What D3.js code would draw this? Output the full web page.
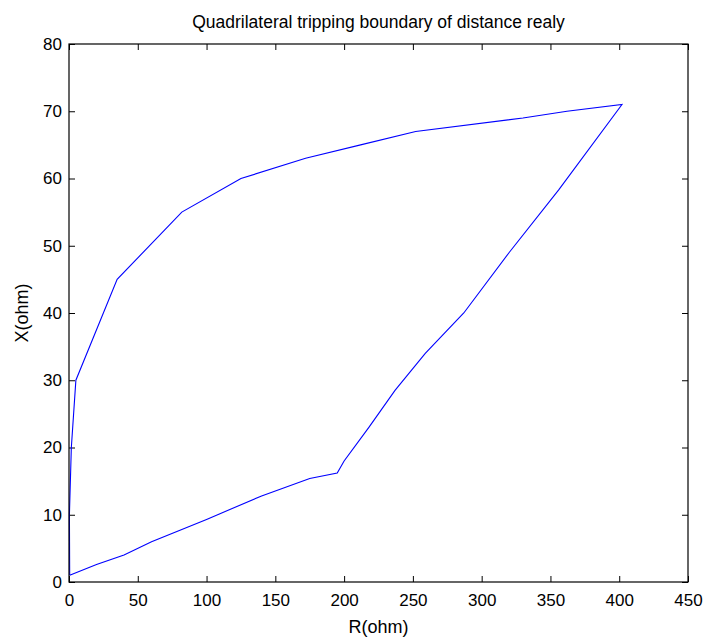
<!DOCTYPE html>
<html>
<head>
<meta charset="utf-8">
<script src="https://cdn.jsdelivr.net/npm/d3@7"></script>
<style>
  html, body { margin: 0; padding: 0; background: #fff; }
  svg { display: block; font-family: "Liberation Sans", Arial, sans-serif; }
</style>
</head>
<body>
<svg id="chart" width="705" height="639"></svg>
<script>
// Boundary traced as one closed path: upper arc from origin to the far corner,
// then the lower arc back to the origin.
const upperR = [0.5, 0.3, 1.7, 5, 35, 82, 125, 172, 212, 252, 330, 362, 402];
const upperX = [1, 10, 20, 30, 45, 55, 60, 63, 65, 67, 69, 70, 71];
const lowerR = [402, 356, 320, 287, 259, 237, 218, 200, 195, 175, 140, 100, 60, 40, 20, 0.5];
const lowerX = [71, 58.3, 49, 40, 34, 28.5, 23, 18, 16.2, 15.4, 12.8, 9.3, 6, 4, 2.6, 1];

const xTicks = [0, 50, 100, 150, 200, 250, 300, 350, 400, 450];
const yTicks = [0, 10, 20, 30, 40, 50, 60, 70, 80];

const titleText = "Quadrilateral tripping boundary of distance realy";
const xLabel = "R(ohm)";
const yLabel = "X(ohm)";

const svg = d3.select("#chart");
const plotL = 69, plotR = 688, plotT = 44, plotB = 582;

const x = d3.scaleLinear().domain([0, 450]).range([plotL, plotR]);
const y = d3.scaleLinear().domain([0, 80]).range([plotB, plotT]);

const tickLen = 6;
const tickFont = 17;
const labelFont = 18;

// Axes: ticks point inward, mirrored on the top and right edges
svg.append("g")
  .attr("transform", `translate(0,${plotB})`)
  .call(d3.axisBottom(x).tickValues(xTicks).tickSizeInner(-tickLen).tickSizeOuter(0).tickPadding(12))
  .call(g => g.select(".domain").remove())
  .call(g => g.selectAll("text").attr("font-size", tickFont).attr("font-family", "Liberation Sans, Arial, sans-serif").attr("fill", "#000"));

svg.append("g")
  .attr("transform", `translate(0,${plotT})`)
  .call(d3.axisTop(x).tickValues(xTicks).tickSizeInner(-tickLen).tickSizeOuter(0).tickFormat(""))
  .call(g => g.select(".domain").remove());

svg.append("g")
  .attr("transform", `translate(${plotL},0)`)
  .call(d3.axisLeft(y).tickValues(yTicks).tickSizeInner(-tickLen).tickSizeOuter(0).tickPadding(7))
  .call(g => g.select(".domain").remove())
  .call(g => g.selectAll("text").attr("font-size", tickFont).attr("font-family", "Liberation Sans, Arial, sans-serif").attr("fill", "#000"));

svg.append("g")
  .attr("transform", `translate(${plotR},0)`)
  .call(d3.axisRight(y).tickValues(yTicks).tickSizeInner(-tickLen).tickSizeOuter(0).tickFormat(""))
  .call(g => g.select(".domain").remove());

svg.selectAll(".tick line").attr("stroke", "#000");

// Boundary curve
const pts = upperR.map((r, i) => [r, upperX[i]])
  .concat(lowerR.map((r, i) => [r, lowerX[i]]));

svg.append("path")
  .datum(pts)
  .attr("fill", "none")
  .attr("stroke", "#0000ff")
  .attr("stroke-width", 1.1)
  .attr("d", d3.line().x(d => x(d[0])).y(d => y(d[1])));

// Plot frame
svg.append("rect")
  .attr("x", plotL).attr("y", plotT)
  .attr("width", plotR - plotL).attr("height", plotB - plotT)
  .attr("fill", "none").attr("stroke", "#000").attr("stroke-width", 1.2);

// Title and axis labels
svg.append("text")
  .attr("x", (plotL + plotR) / 2).attr("y", 28)
  .attr("text-anchor", "middle").attr("font-size", 17.5)
  .text(titleText);

svg.append("text")
  .attr("x", (plotL + plotR) / 2).attr("y", 633)
  .attr("text-anchor", "middle").attr("font-size", labelFont)
  .text(xLabel);

svg.append("text")
  .attr("transform", `translate(28,${(plotT + plotB) / 2}) rotate(-90)`)
  .attr("text-anchor", "middle").attr("font-size", labelFont)
  .text(yLabel);
</script>
</body>
</html>
